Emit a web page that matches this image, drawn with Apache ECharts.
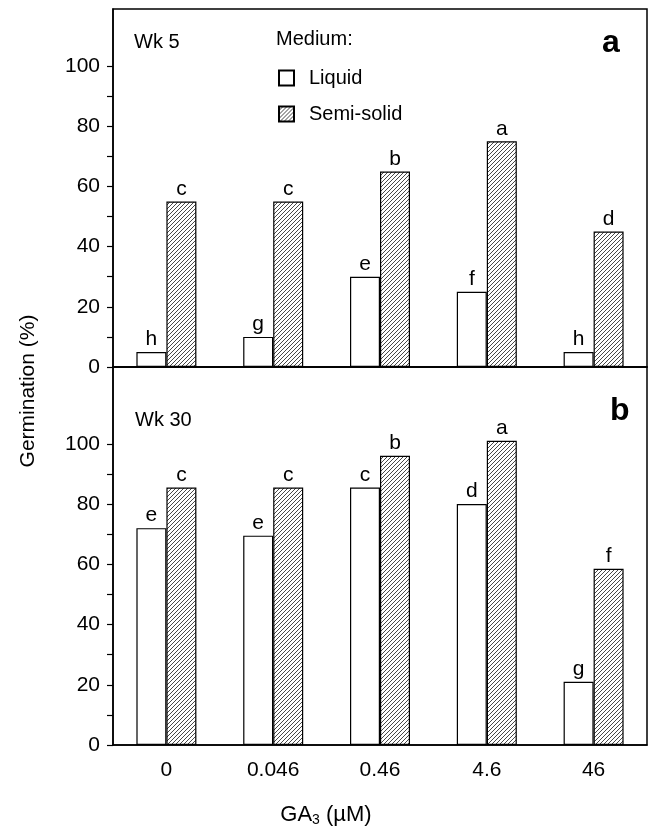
<!DOCTYPE html>
<html lang="en">
<head>
  <meta charset="UTF-8">
  <title>Germination vs GA3</title>
  <style>
    html, body { margin: 0; padding: 0; background: #fff; }
    #chart { width: 649px; height: 834px; }
  </style>
  <script src="https://cdn.jsdelivr.net/npm/echarts@6/dist/echarts.min.js"></script>
</head>
<body>
  <div id="chart"></div>

  <script>
    // GA3 concentrations (uM)
    const categories = ['0', '0.046', '0.46', '4.6', '46'];

    // week 5 (panel a)
    const wk5Liquid = [5, 10, 30, 25, 5];
    const wk5Semi = [55, 55, 65, 75, 45];
    const wk5LiquidLetters = ['h', 'g', 'e', 'f', 'h'];
    const wk5SemiLetters = ['c', 'c', 'b', 'a', 'd'];

    // week 30 (panel b)
    const wk30Liquid = [72, 69.5, 85.5, 80, 21];
    const wk30Semi = [85.5, 85.5, 96, 101, 58.5];
    const wk30LiquidLetters = ['e', 'e', 'c', 'd', 'g'];
    const wk30SemiLetters = ['c', 'c', 'b', 'a', 'f'];

    // y axis ticks
    const yLabels = [0, 20, 40, 60, 80, 100];
    const yTicks = [0, 10, 20, 30, 40, 50, 60, 70, 80, 90, 100];

    const FONT = "'Liberation Sans', Arial, sans-serif";

    // hatch pattern ///
    function makeHatch() {
      const c = document.createElement('canvas');
      c.width = 4;
      c.height = 4;
      const ctx = c.getContext('2d');
      ctx.fillStyle = '#fff';
      ctx.fillRect(0, 0, 4, 4);
      ctx.strokeStyle = '#333';
      ctx.lineWidth = 0.9;
      ctx.beginPath();
      ctx.moveTo(0, 4); ctx.lineTo(4, 0);
      ctx.moveTo(-1, 1); ctx.lineTo(1, -1);
      ctx.moveTo(3, 5); ctx.lineTo(5, 3);
      ctx.stroke();
      return c;
    }
    const hatch = { image: makeHatch(), repeat: 'repeat' };

    function barSeries(name, data, letters, idx, hatched) {
      return {
        name: name,
        type: 'bar',
        xAxisIndex: idx,
        yAxisIndex: idx,
        data: data,
        barWidth: 30,
        barGap: '0%',
        itemStyle: {
          color: hatched ? hatch : '#fff',
          borderColor: '#000',
          borderWidth: 1.2
        },
        label: {
          show: true,
          position: 'top',
          distance: 2,
          fontSize: 21,
          fontFamily: FONT,
          color: '#000',
          formatter: p => letters[p.dataIndex]
        },
        emphasis: { disabled: true }
      };
    }

    function yAxis(idx, max) {
      return {
        type: 'value',
        gridIndex: idx,
        min: 0,
        max: max,
        splitLine: { show: false },
        axisLine: { show: true, lineStyle: { color: '#000', width: 1.5 } },
        axisTick: { show: true, length: 6, customValues: yTicks, lineStyle: { color: '#000', width: 1.2 } },
        axisLabel: { customValues: yLabels, fontSize: 21, fontFamily: FONT, color: '#000', margin: 13 }
      };
    }

    const chart = echarts.init(document.getElementById('chart'));

    const option = {
      animation: false,
      backgroundColor: '#fff',
      grid: [
        { left: 113, width: 534, top: 9, height: 358, show: true, borderColor: '#000', borderWidth: 1.5 },
        { left: 113, width: 534, top: 367, height: 378, show: true, borderColor: '#000', borderWidth: 1.5 }
      ],
      xAxis: [
        {
          type: 'category',
          gridIndex: 0,
          data: categories,
          axisLine: { lineStyle: { color: '#000', width: 1.5 } },
          axisTick: { show: false },
          axisLabel: { show: false }
        },
        {
          type: 'category',
          gridIndex: 1,
          data: categories,
          axisLine: { lineStyle: { color: '#000', width: 1.5 } },
          axisTick: { show: false },
          axisLabel: { fontSize: 21, fontFamily: FONT, color: '#000', margin: 15 }
        }
      ],
      yAxis: [yAxis(0, 119), yAxis(1, 125.5)],
      legend: {
        data: ['Liquid', 'Semi-solid'],
        orient: 'vertical',
        left: 273,
        top: 63,
        icon: 'rect',
        itemWidth: 15,
        itemHeight: 15,
        itemGap: 16,
        selectedMode: false,
        textStyle: { fontSize: 20, fontFamily: FONT, color: '#000', padding: [0, 0, 0, 10] }
      },
      graphic: [
        { type: 'text', left: 134, top: 32, style: { text: 'Wk 5', fontSize: 20, fontFamily: FONT, fill: '#000' } },
        { type: 'text', left: 276, top: 29, style: { text: 'Medium:', fontSize: 20, fontFamily: FONT, fill: '#000' } },
        { type: 'text', left: 602, top: 27, style: { text: 'a', fontSize: 32, fontWeight: 'bold', fontFamily: FONT, fill: '#000' } },
        { type: 'text', left: 135, top: 410, style: { text: 'Wk 30', fontSize: 20, fontFamily: FONT, fill: '#000' } },
        { type: 'text', left: 610, top: 395, style: { text: 'b', fontSize: 32, fontWeight: 'bold', fontFamily: FONT, fill: '#000' } },
        {
          type: 'text',
          x: 28,
          y: 391,
          rotation: Math.PI / 2,
          style: { text: 'Germination (%)', fontSize: 21, fontFamily: FONT, fill: '#000', align: 'center', verticalAlign: 'middle' }
        },
        {
          type: 'text',
          x: 326,
          y: 815,
          style: {
            text: '{n|GA}{s|3}{n| (µM)}',
            align: 'center',
            verticalAlign: 'middle',
            rich: {
              n: { fontSize: 22, fontFamily: FONT, fill: '#000' },
              s: { fontSize: 14, fontFamily: FONT, fill: '#000', padding: [10, 0, 0, 0] }
            }
          }
        }
      ],
      series: [
        barSeries('Liquid', wk5Liquid, wk5LiquidLetters, 0, false),
        barSeries('Semi-solid', wk5Semi, wk5SemiLetters, 0, true),
        barSeries('Liquid', wk30Liquid, wk30LiquidLetters, 1, false),
        barSeries('Semi-solid', wk30Semi, wk30SemiLetters, 1, true)
      ]
    };

    chart.setOption(option);
  </script>
</body>
</html>
